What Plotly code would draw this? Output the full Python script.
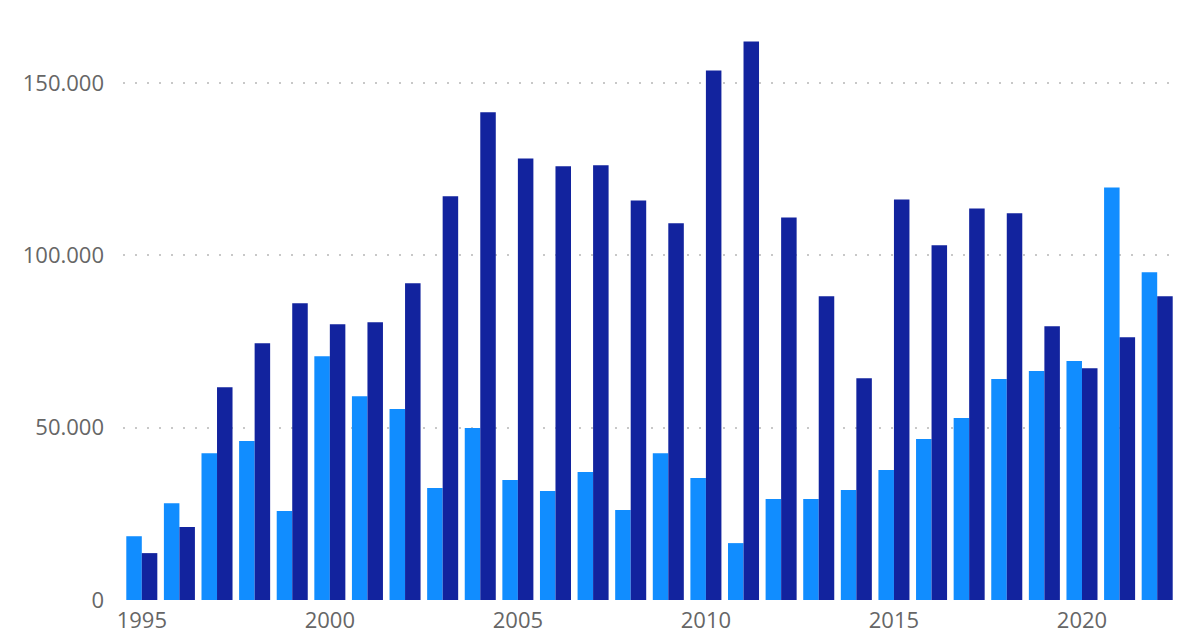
import plotly.graph_objects as go

years = list(range(1995, 2023))
series_a = [18500, 28100, 42600, 46100, 25800, 70700, 59100, 55400, 32500, 49900,
            34800, 31600, 37100, 26100, 42600, 35400, 16500, 29300, 29300, 31900,
            37700, 46700, 52800, 64100, 66400, 69300, 119700, 95100]
series_b = [13600, 21200, 61700, 74500, 86100, 80000, 80600, 91900, 117100, 141500,
            128100, 125800, 126100, 115900, 109300, 153600, 162000, 111000, 88100, 64300,
            116200, 102900, 113600, 112200, 79400, 67200, 76200, 88100]
y_ticks = [0, 50000, 100000, 150000]
y_labels = ["0", "50.000", "100.000", "150.000"]
x_ticks = [1995, 2000, 2005, 2010, 2015, 2020]

tick_font = dict(family="Open Sans", size=22, color="#666666")

fig = go.Figure()
fig.add_trace(go.Bar(x=years, y=series_a, marker_color="#118DFF", marker_line_width=0, name="A"))
fig.add_trace(go.Bar(x=years, y=series_b, marker_color="#12239E", marker_line_width=0, name="B"))

fig.update_layout(
    width=1189, height=638,
    margin=dict(l=115, r=21, t=6, b=46),
    paper_bgcolor="white", plot_bgcolor="white",
    barmode="group", bargap=0.175, bargroupgap=0,
    showlegend=False,
    font=tick_font,
)
fig.update_xaxes(range=[1994.5, 2022.5], tickvals=x_ticks, ticktext=[str(v) for v in x_ticks],
                 tickfont=tick_font, ticklabelstandoff=5,
                 showgrid=False, zeroline=False, showline=False, ticks="", ticklen=0)
fig.update_yaxes(range=[0, 170000], tickvals=y_ticks, ticktext=y_labels,
                 tickfont=tick_font,
                 showgrid=True, gridcolor="#c8c8c8", gridwidth=2, griddash="2px,10px",
                 zeroline=False, showline=False, ticks="", ticklabelstandoff=18)

fig.write_html("out.html")
